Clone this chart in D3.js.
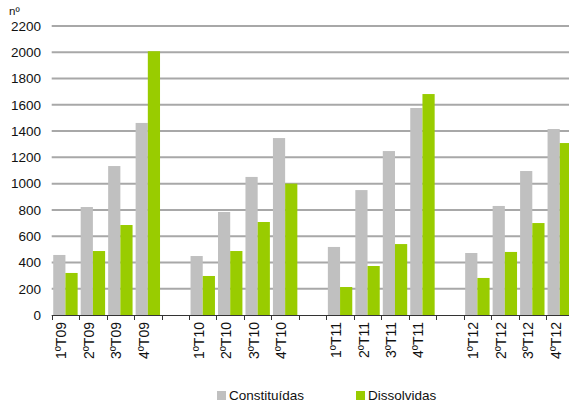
<!DOCTYPE html>
<html>
<head>
<meta charset="utf-8">
<script src="https://cdn.jsdelivr.net/npm/d3@7"></script>
<style>
  html, body { margin: 0; padding: 0; background: #fff; }
  svg { display: block; font-family: "Liberation Sans", Arial, sans-serif; }
</style>
</head>
<body>
<svg id="chart" width="569" height="403"></svg>
<script>
// Quarterly counts of companies formed and dissolved, 2009–2012
const categories = ["1ºT09","2ºT09","3ºT09","4ºT09",
                    "1ºT10","2ºT10","3ºT10","4ºT10",
                    "1ºT11","2ºT11","3ºT11","4ºT11",
                    "1ºT12","2ºT12","3ºT12","4ºT12"];
const constituidas = [457, 822, 1134, 1462,
                      449, 784, 1051, 1347,
                      518, 951, 1248, 1576,
                      472, 830, 1096, 1416];
const dissolvidas  = [320, 487, 685, 2008,
                      297, 487, 708, 1000,
                      213, 373, 540, 1682,
                      282, 480, 700, 1309];
const seriesNames  = ["Constituídas", "Dissolvidas"];
const seriesColors = ["#c0c0c0", "#99cc00"];
const yTicks = [0, 200, 400, 600, 800, 1000, 1200, 1400, 1600, 1800, 2000, 2200];

const svg = d3.select("#chart");
const textColor = "#111";

// Slots: one per quarter, plus an empty slot between years
const slots = [];
categories.forEach((c, i) => {
  slots.push(c);
  if (i % 4 === 3 && i < categories.length - 1) slots.push("gap" + i);
});

const x = d3.scaleBand().domain(slots).range([51.7, 573.5]).padding(0);
const inner = d3.scaleBand().domain(seriesNames).range([0, x.bandwidth()])
  .paddingInner(0).paddingOuter(0.125);
const y = d3.scaleLinear().domain([0, 2200]).range([315, 26]);

// Horizontal gridlines
svg.append("g").selectAll("line")
  .data(yTicks.filter(v => v > 0))
  .join("line")
  .attr("x1", 51.7).attr("x2", 569)
  .attr("y1", d => y(d)).attr("y2", d => y(d))
  .attr("stroke", "#a8a8a8").attr("stroke-width", 2);

// Y axis labels
const yAxis = svg.append("g")
  .attr("transform", "translate(41,0)")
  .call(d3.axisLeft(y).tickValues(yTicks).tickSize(0).tickPadding(0).tickFormat(d3.format("d")));
yAxis.select(".domain").remove();
yAxis.selectAll("text")
  .attr("font-size", 13.5).attr("fill", textColor)
  .attr("font-family", "Liberation Sans, Arial, sans-serif");

// Unit label
svg.append("text").attr("x", 9).attr("y", 15)
  .attr("font-size", 11.5).attr("fill", textColor)
  .text("nº");

// Bars
const rows = categories.map((c, i) => ({ cat: c, values: [constituidas[i], dissolvidas[i]] }));
const groups = svg.append("g").selectAll("g")
  .data(rows).join("g")
  .attr("transform", d => `translate(${x(d.cat)},0)`);
groups.selectAll("rect")
  .data(d => d.values.map((v, k) => ({ v, k })))
  .join("rect")
  .attr("x", d => inner(seriesNames[d.k]))
  .attr("width", inner.bandwidth())
  .attr("y", d => y(d.v))
  .attr("height", d => y(0) - y(d.v))
  .attr("fill", d => seriesColors[d.k]);

// X axis line and boundary ticks
const axisG = svg.append("g");
axisG.append("line")
  .attr("x1", x.range()[0]).attr("x2", 569)
  .attr("y1", y(0) + 0.5).attr("y2", y(0) + 0.5)
  .attr("stroke", "#333").attr("stroke-width", 1);
axisG.selectAll("line.tick")
  .data(slots).join("line").attr("class", "tick")
  .attr("x1", d => Math.round(x(d)) + 0.5).attr("x2", d => Math.round(x(d)) + 0.5)
  .attr("y1", y(0)).attr("y2", y(0) + 5)
  .attr("stroke", "#333").attr("stroke-width", 1);

// Rotated category labels
axisG.selectAll("text")
  .data(categories).join("text")
  .attr("transform", d => `translate(${x(d) + x.bandwidth() / 2 + 1},322) rotate(-90)`)
  .attr("text-anchor", "end")
  .attr("font-size", 14).attr("fill", textColor)
  .text(d => d);

// Legend
const legend = svg.append("g");
const legendX = [217, 356];
seriesNames.forEach((name, k) => {
  legend.append("rect")
    .attr("x", legendX[k]).attr("y", 391).attr("width", 9).attr("height", 9)
    .attr("fill", seriesColors[k]);
  legend.append("text")
    .attr("x", legendX[k] + 12).attr("y", 400)
    .attr("font-size", 13.5).attr("fill", textColor)
    .text(name);
});
</script>
</body>
</html>
